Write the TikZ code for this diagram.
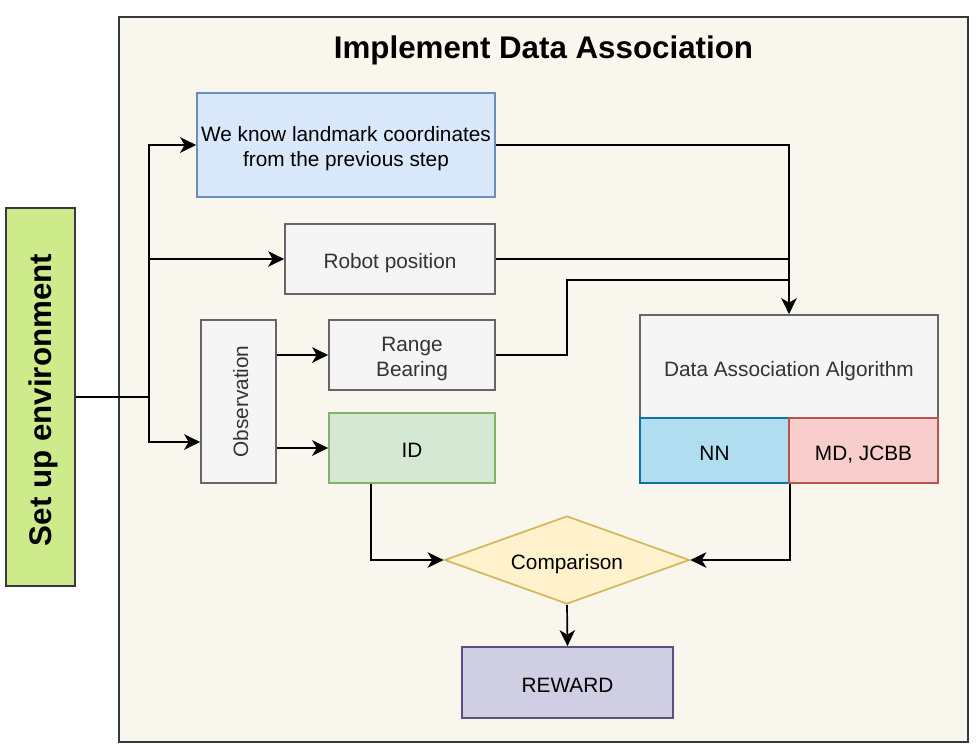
\documentclass[tikz,border=0pt]{standalone}
\usepackage{fontspec}
\setmainfont{Liberation Sans}
\usetikzlibrary{arrows.meta,shapes.geometric}
\definecolor{contfill}{HTML}{F9F7ED}
\definecolor{contline}{HTML}{36393D}
\definecolor{envfill}{HTML}{CDEB8B}
\definecolor{bluefill}{HTML}{DAE8FC}
\definecolor{blueline}{HTML}{6C8EBF}
\definecolor{grayfill}{HTML}{F5F5F5}
\definecolor{grayline}{HTML}{666666}
\definecolor{graytext}{HTML}{333333}
\definecolor{greenfill}{HTML}{D5E8D4}
\definecolor{greenline}{HTML}{82B366}
\definecolor{nnfill}{HTML}{B1DDF0}
\definecolor{nnline}{HTML}{10739E}
\definecolor{mdfill}{HTML}{F8CECC}
\definecolor{mdline}{HTML}{B85450}
\definecolor{yelfill}{HTML}{FFF2CC}
\definecolor{yelline}{HTML}{D6B656}
\definecolor{purfill}{HTML}{D0CEE2}
\definecolor{purline}{HTML}{56517E}
\begin{document}
\begin{tikzpicture}[x=1pt,y=-1pt,
  lbl/.style={inner sep=0pt, align=center, font=\fontsize{20.8}{25}\selectfont},
  box/.style={lbl, draw, line width=1.7pt, text height=20.6pt, text depth=1.6pt},
  graybox/.style={box, fill=grayfill, draw=grayline, text=graytext},
  bigtext/.style={inner sep=0pt, font=\fontsize{31.3}{36}\selectfont\bfseries},
  conn/.style={line width=1.7pt, -{Stealth[length=16pt,width=15.5pt,inset=4.5pt]}},
  plain/.style={line width=1.7pt}]
\useasboundingbox (0,0) rectangle (976,752);
% container
\node[box, fill=contfill, draw=contline, minimum width=849pt, minimum height=725pt] (cont) at (543.5,379.5) {};
\node[bigtext] (title) at (543.5,50.2) {Implement Data Association};
% environment
\node[box, fill=envfill, draw=contline, minimum width=69pt, minimum height=378pt] (env) at (40.5,397) {};
\node[bigtext, rotate=90] (envtext) at (43.6,400) {Set up environment};
% boxes
\node[box, fill=bluefill, draw=blueline, minimum width=298pt, minimum height=104pt,
  label={[lbl, yshift=-3.8pt, name=lmtext]center:{We know landmark coordinates\\from the previous step}}] (lm) at (346,145) {};
\node[graybox, minimum width=210pt, minimum height=70pt] (rp) at (390,259) {Robot position};
\node[graybox, minimum width=75pt, minimum height=163pt] (obs) at (238.5,401.5) {};
\node[lbl, rotate=90, text=graytext] (obstext) at (240.7,401.5) {Observation};
\node[graybox, minimum width=166pt, minimum height=70pt,
  label={[lbl, yshift=-4pt, text=graytext, name=rbtext]center:{Range\\Bearing}}] (rb) at (412,355) {};
\node[box, fill=greenfill, draw=greenline, minimum width=166pt, minimum height=70pt] (id) at (412,448) {ID};
\node[graybox, minimum width=298pt, minimum height=103pt] (daa) at (789,366.5) {Data Association Algorithm};
\node[box, fill=nnfill, draw=nnline, minimum width=149pt, minimum height=65pt] (nn) at (714.5,450.5) {NN};
\node[box, fill=mdfill, draw=mdline, minimum width=149pt, minimum height=65pt] (md) at (863.5,450.5) {MD, JCBB};
\node[box, diamond, fill=yelfill, draw=yelline, minimum width=245pt, minimum height=88pt, aspect=2.8] (comp) at (567,560) {Comparison};
\node[box, fill=purfill, draw=purline, minimum width=211pt, minimum height=71pt] (rw) at (567.5,682.5) {REWARD};
% connectors
\coordinate (j) at (149,397);
\draw[plain] (env.east) -- (j);
\draw[conn] (j) |- (lm.west);
\draw[conn] (j) |- (rp.west);
\draw[conn] (j) |- ([yshift=-40.5pt]obs.west);
\draw[conn] (obs.east |- rb.west) -- (rb.west);
\draw[conn] (obs.east |- id.west) -- (id.west);
\draw[conn] (lm.east) -| (daa.north);
\draw[plain] (rp.east) -- (rp.east -| daa.north);
\coordinate (k) at (567,280);
\draw[plain] (rb.east) -| (k) -- (k -| daa.north);
\draw[conn] ([xshift=-41pt]id.south) |- (comp.west);
\draw[conn] (nn.south east) |- (comp.east);
\draw[conn] (comp.south) -- (rw.north);
\end{tikzpicture}
\end{document}
